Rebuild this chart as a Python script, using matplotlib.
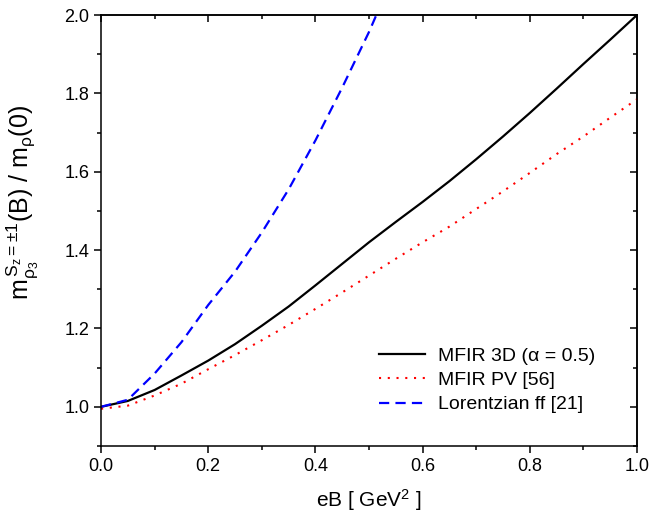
import numpy as np
from matplotlib import pyplot as plt
from matplotlib.ticker import MultipleLocator, NullFormatter

plt.rcParams['font.family'] = ['Liberation Sans', 'DejaVu Sans']
plt.rcParams['mathtext.fontset'] = 'custom'
plt.rcParams['mathtext.rm'] = 'Liberation Sans'
plt.rcParams['mathtext.it'] = 'Liberation Sans'
plt.rcParams['mathtext.default'] = 'rm'

# data
eB = [0.0, 0.05, 0.1, 0.15, 0.2, 0.25, 0.3, 0.35, 0.4, 0.45, 0.5,
      0.55, 0.6, 0.65, 0.7, 0.75, 0.8, 0.85, 0.9, 0.95, 1.0]
mfir3d = [1.0, 1.015, 1.043, 1.08, 1.118, 1.16, 1.207, 1.256, 1.31, 1.365, 1.42,
          1.472, 1.523, 1.576, 1.632, 1.69, 1.75, 1.812, 1.875, 1.937, 2.0]
mfirpv = [0.995, 1.003, 1.029, 1.059, 1.096, 1.132, 1.17, 1.209, 1.25, 1.292, 1.335,
          1.378, 1.42, 1.46, 1.505, 1.55, 1.597, 1.645, 1.69, 1.738, 1.785]
eB_lor = [0.0, 0.05, 0.1, 0.15, 0.2, 0.25, 0.3, 0.35, 0.4, 0.45, 0.5, 0.52]
lorentz = [1.0, 1.018, 1.085, 1.165, 1.26, 1.345, 1.445, 1.555, 1.68, 1.815, 1.957, 2.02]

fig = plt.figure(figsize=(6.52, 5.18), dpi=100)
ax = fig.add_axes([0.155, 0.139, 0.822, 0.832])

ax.plot(eB, mfir3d, color='black', lw=1.6, label='MFIR 3D (α = 0.5)')
ax.plot(eB, mfirpv, color='red', lw=1.5, linestyle=(0, (1, 3.2)), label='MFIR PV [56]')
ax.plot(eB_lor, lorentz, color='blue', lw=1.6, linestyle=(0, (4.6, 2.8)), label='Lorentzian ff [21]')

ax.set_xlim(0, 1.0)
ax.set_ylim(0.9, 2.0)
ax.xaxis.set_major_locator(MultipleLocator(0.2))
ax.xaxis.set_minor_locator(MultipleLocator(0.1))
ax.yaxis.set_major_locator(MultipleLocator(0.2))
ax.yaxis.set_minor_locator(MultipleLocator(0.1))
ax.xaxis.set_major_formatter(lambda v, p: '%.1f' % v)
ax.yaxis.set_major_formatter(lambda v, p: '%.1f' % v)
ax.tick_params(which='major', direction='out', length=5, width=1.1, labelsize=13)
ax.tick_params(which='minor', direction='out', length=3, width=1.1)
for s in ax.spines.values():
    s.set_linewidth(1.1)

# mirror ticks pointing inward on top and right
top = ax.secondary_xaxis('top')
top.xaxis.set_major_locator(MultipleLocator(0.2))
top.xaxis.set_minor_locator(MultipleLocator(0.1))
top.xaxis.set_major_formatter(NullFormatter())
top.tick_params(which='major', direction='in', length=5, width=1.1)
top.tick_params(which='minor', direction='in', length=3, width=1.1)
right = ax.secondary_yaxis('right')
right.yaxis.set_major_locator(MultipleLocator(0.2))
right.yaxis.set_minor_locator(MultipleLocator(0.1))
right.yaxis.set_major_formatter(NullFormatter())
right.tick_params(which='major', direction='in', length=5, width=1.1)
right.tick_params(which='minor', direction='in', length=3, width=1.1)
for a in (top, right):
    for s in a.spines.values():
        s.set_linewidth(1.1)

ax.set_xlabel(r'eB [ GeV$^2$ ]', fontsize=15, labelpad=9)
ax.set_ylabel(r'm$_{\rho_3}^{\,S_z=\pm1}$(B) / m$_\rho$(0)', fontsize=18)
ax.yaxis.set_label_coords(-0.113, 0.565)

ax.legend(loc='lower right', bbox_to_anchor=(0.955, 0.035), frameon=False, fontsize=14,
          handlelength=2.4, handletextpad=0.65, labelspacing=0.34)

fig.savefig('out.png', dpi=100)
